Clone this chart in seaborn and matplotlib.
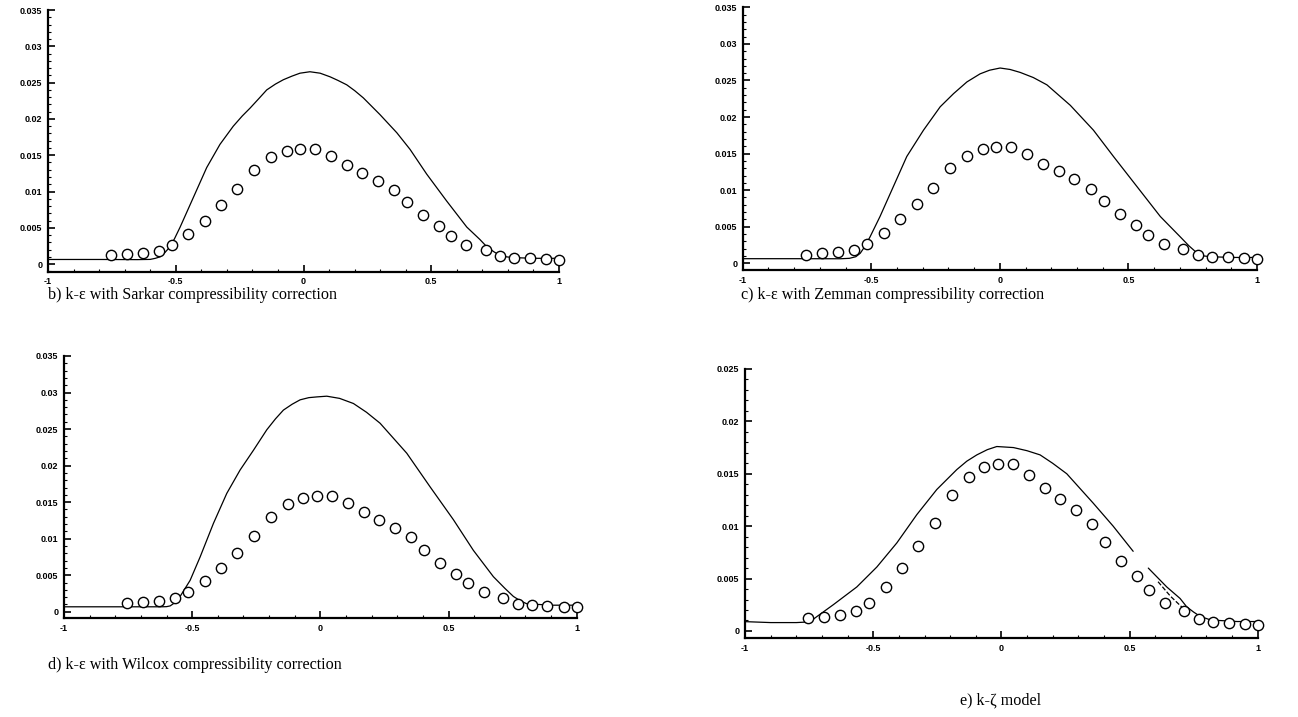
import matplotlib
matplotlib.use("Agg")
import matplotlib.pyplot as plt
from matplotlib.ticker import MultipleLocator, FuncFormatter
import numpy as np
import pandas as pd
import seaborn as sns

sns.set_style("ticks", {'axes.edgecolor': 'black', 'text.color': 'black',
                        'xtick.color': 'black', 'ytick.color': 'black'})
plt.rcParams['font.family'] = ['Liberation Serif', 'DejaVu Serif']

# 실험값 (동그라미)
exp_x = [-0.753, -0.692, -0.629, -0.567, -0.516, -0.451, -0.387, -0.324, -0.259, -0.194,
         -0.128, -0.066, -0.014, 0.045, 0.106, 0.169, 0.230, 0.290, 0.354, 0.404,
         0.466, 0.529, 0.577, 0.637, 0.713, 0.770, 0.825, 0.886, 0.949, 1.0]
exp_y = [0.0012, 0.00137, 0.0015, 0.00187, 0.0027, 0.0042, 0.006, 0.0081, 0.0103, 0.013,
         0.0147, 0.0156, 0.0159, 0.0159, 0.0149, 0.0136, 0.0126, 0.0115, 0.0102, 0.0085,
         0.0067, 0.0052, 0.0039, 0.0027, 0.0019, 0.0011, 0.0009, 0.0008, 0.0007, 0.0006]

# b) Sarkar
sarkar_x = [-1.0, -0.8, -0.65, -0.6, -0.58, -0.562, -0.545, -0.523, -0.505, -0.483, -0.431,
            -0.379, -0.327, -0.275, -0.24, -0.209, -0.175, -0.144, -0.11, -0.079, -0.045,
            -0.014, 0.025, 0.065, 0.104, 0.135, 0.169, 0.2, 0.234, 0.299, 0.365, 0.417,
            0.482, 0.56, 0.639, 0.69, 0.717, 0.745, 0.769, 0.795, 0.821, 0.9, 1.0]
sarkar_y = [0.00064, 0.00064, 0.00062, 0.00065, 0.0008, 0.001, 0.0015, 0.00237, 0.0035, 0.0051,
            0.0092, 0.0133, 0.0165, 0.019, 0.0204, 0.0215, 0.0228, 0.024, 0.0248, 0.0254, 0.0259,
            0.0263, 0.0265, 0.0263, 0.0258, 0.0253, 0.0247, 0.0239, 0.0229, 0.0206, 0.0181, 0.0158,
            0.0124, 0.0087, 0.0051, 0.0034, 0.0024, 0.0017, 0.0012, 0.001, 0.0009, 0.0008, 0.0008]

# c) Zemman
zemman_x = [-1.0, -0.8, -0.62, -0.585, -0.56, -0.543, -0.525, -0.505, -0.466, -0.414, -0.362,
            -0.297, -0.232, -0.18, -0.128, -0.077, -0.04, 0.001, 0.04, 0.079, 0.13, 0.183,
            0.274, 0.364, 0.442, 0.533, 0.624, 0.702, 0.735, 0.767, 0.795, 0.82, 0.9, 1.0]
zemman_y = [0.00063, 0.00063, 0.00062, 0.00068, 0.0009, 0.00137, 0.0023, 0.0036, 0.0064, 0.0105,
            0.0146, 0.0182, 0.0214, 0.0232, 0.0248, 0.0259, 0.0264, 0.0267, 0.0265, 0.0261, 0.0254,
            0.0244, 0.0216, 0.0182, 0.0146, 0.0105, 0.0064, 0.0036, 0.0024, 0.0014, 0.001,
            0.0009, 0.0008, 0.0008]

# d) Wilcox
wilcox_x = [-1.0, -0.8, -0.62, -0.6, -0.586, -0.565, -0.547, -0.508, -0.469, -0.417, -0.365,
            -0.313, -0.261, -0.209, -0.175, -0.144, -0.11, -0.079, -0.045, -0.014, 0.025, 0.075,
            0.129, 0.18, 0.233, 0.337, 0.428, 0.519, 0.597, 0.675, 0.72, 0.753, 0.78, 0.805,
            0.9, 1.0]
wilcox_y = [0.00068, 0.00068, 0.00068, 0.0007, 0.0008, 0.0013, 0.0021, 0.0043, 0.0075, 0.0121,
            0.0162, 0.0194, 0.0221, 0.0249, 0.0264, 0.0276, 0.0284, 0.029, 0.0293, 0.0294, 0.0295,
            0.0292, 0.0285, 0.0273, 0.0258, 0.0217, 0.0171, 0.0126, 0.0084, 0.0048, 0.0032,
            0.0021, 0.0015, 0.0011, 0.0009, 0.0009]

# e) k-zeta (0.51~0.57 사이 끊김)
zeta_x1 = [-1.0, -0.9, -0.8, -0.76, -0.74, -0.72, -0.69, -0.656, -0.564, -0.486, -0.408,
           -0.33, -0.252, -0.174, -0.135, -0.096, -0.055, -0.018, 0.047, 0.1, 0.151, 0.2,
           0.255, 0.358, 0.436, 0.514]
zeta_y1 = [0.00089, 0.0008, 0.0008, 0.00085, 0.001, 0.00137, 0.0019, 0.0025, 0.0042, 0.0061,
           0.0084, 0.0111, 0.0135, 0.0154, 0.0162, 0.0168, 0.0173, 0.0176, 0.0175, 0.0172,
           0.0168, 0.016, 0.015, 0.0122, 0.01, 0.0076]
zeta_x2 = [0.573, 0.645, 0.697, 0.723, 0.75, 0.775, 0.81, 0.85, 0.92, 1.0]
zeta_y2 = [0.006, 0.0042, 0.0031, 0.0023, 0.0018, 0.0014, 0.0011, 0.001, 0.0009, 0.0009]
zeta_dash_x = [0.611, 0.66, 0.716]
zeta_dash_y = [0.0047, 0.0033, 0.002]

captions = ['b) k-\u03b5 with Sarkar compressibility correction',
            'c) k-\u03b5 with Zemman compressibility correction',
            'd) k-\u03b5 with Wilcox compressibility correction',
            'e) k-\u03b6 model']

fig = plt.figure(figsize=(12.98, 7.17), dpi=100)

# [left, bottom, width, height]
axes_pos = [[0.037, 0.621, 0.3937, 0.365],
            [0.5722, 0.6234, 0.3962, 0.3664],
            [0.0493, 0.138, 0.395, 0.3655],
            [0.574, 0.1102, 0.395, 0.3752]]
ytops = [0.035, 0.035, 0.035, 0.025]
ybots = [-0.00105, -0.00092, -0.00086, -0.00067]

curves = [[(sarkar_x, sarkar_y, '-')],
          [(zemman_x, zemman_y, '-')],
          [(wilcox_x, wilcox_y, '-')],
          [(zeta_x1, zeta_y1, '-'), (zeta_x2, zeta_y2, '-'), (zeta_dash_x, zeta_dash_y, '--')]]

def fmt(v, pos):
    if abs(v) < 1e-12:
        return '0'
    return ('%.3f' % v).rstrip('0').rstrip('.')

exp_df = pd.DataFrame({'x': exp_x, 'y': exp_y})

for i in range(4):
    ax = fig.add_axes(axes_pos[i])
    for cx, cy, ls in curves[i]:
        d = pd.DataFrame({'x': cx, 'y': cy})
        sns.lineplot(data=d, x='x', y='y', ax=ax, color='black', lw=0.9,
                     linestyle=ls, sort=False, estimator=None)
    sns.scatterplot(data=exp_df, x='x', y='y', ax=ax, marker='o', s=55,
                    facecolor='white', edgecolor='black', linewidth=1.0,
                    zorder=3, clip_on=False)
    ax.set_xlim(-1, 1)
    ax.set_ylim(ybots[i], ytops[i])
    ax.set_xlabel('')
    ax.set_ylabel('')
    ax.xaxis.set_major_locator(MultipleLocator(0.5))
    ax.xaxis.set_minor_locator(MultipleLocator(0.1))
    ax.yaxis.set_major_locator(MultipleLocator(0.005))
    ax.yaxis.set_minor_locator(MultipleLocator(0.001))
    ax.xaxis.set_major_formatter(FuncFormatter(fmt))
    ax.yaxis.set_major_formatter(FuncFormatter(fmt))
    ax.tick_params(which='major', direction='in', length=5, width=1.2, pad=4, colors='black')
    ax.tick_params(which='minor', direction='in', length=2.5, width=0.8, colors='black')
    for lab in ax.get_xticklabels() + ax.get_yticklabels():
        lab.set_fontfamily('Liberation Sans')
        lab.set_fontsize(6.5)
        lab.set_fontweight('bold')
    sns.despine(ax=ax)
    ax.spines['left'].set_linewidth(1.6)
    ax.spines['bottom'].set_linewidth(1.6)
    ax.set_facecolor('none')

# 그림 설명
fig.text(48 / 1298, 1 - 295 / 717, captions[0], fontsize=11.6, va='center', ha='left', color='black')
fig.text(741 / 1298, 1 - 295 / 717, captions[1], fontsize=11.6, va='center', ha='left', color='black')
fig.text(48 / 1298, 1 - 665 / 717, captions[2], fontsize=11.6, va='center', ha='left', color='black')
fig.text(1001 / 1298, 1 - 700 / 717, captions[3], fontsize=11.6, va='center', ha='center', color='black')

fig.savefig('out.png', dpi=100, facecolor='white')
